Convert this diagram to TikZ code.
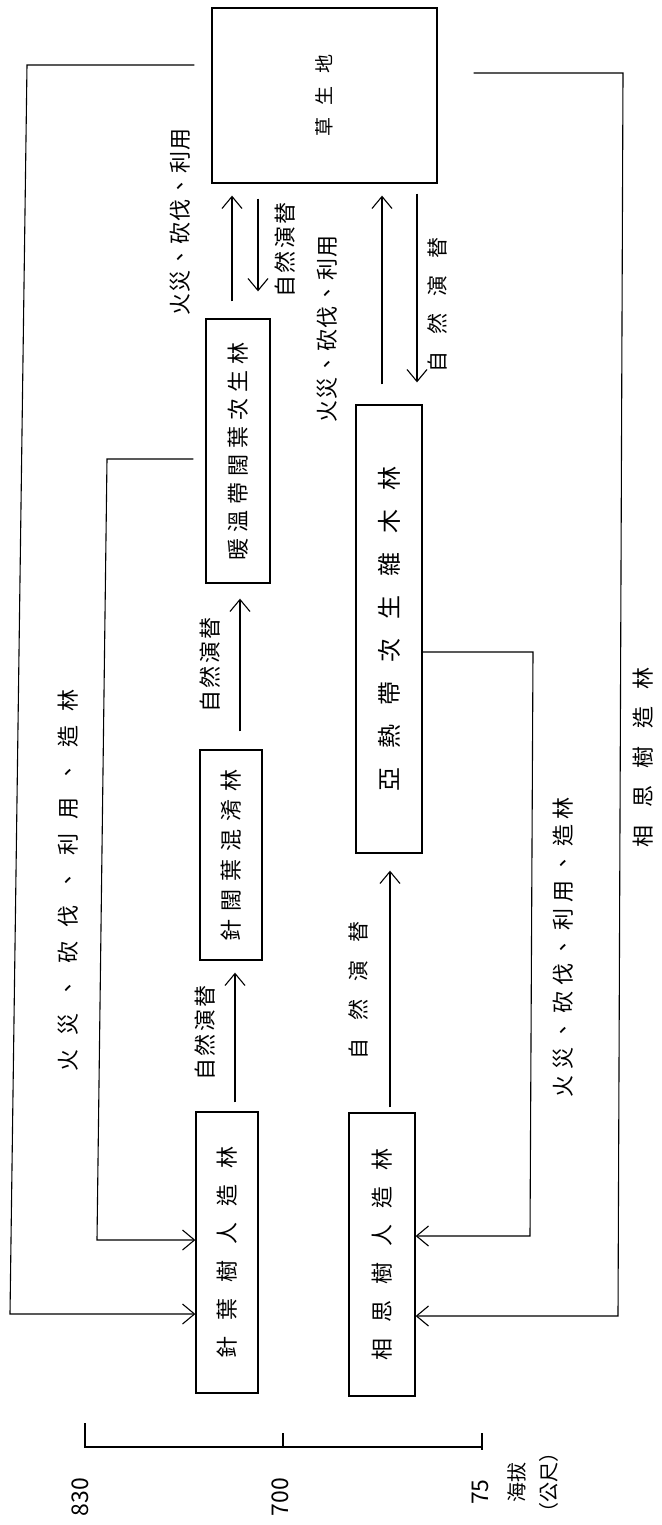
\documentclass[tikz,border=0pt]{standalone}
\usepackage{fontspec}
\setmainfont{Noto Sans CJK TC}
\usetikzlibrary{arrows.meta}
\newlength\cg
\newcommand\G{\hspace{\cg}}
\newcommand\fs[1]{\fontsize{#1}{#1}\selectfont}
\begin{document}
\begin{tikzpicture}[x=1pt,y=1pt,
  box/.style={draw, line width=1.3pt, inner sep=0pt},
  lbl/.style={rotate=90, inner sep=0pt},
  ln/.style={line width=1.1pt},
  arr/.style={line width=1.1pt, -{Straight Barb[length=12pt,width=20pt,line width=1.1pt]}}]
\useasboundingbox (0,0) rectangle (661,-1525);
\fill[white] (0,0) rectangle (661,-1525);

% boxes
\node[box, minimum width=225pt, minimum height=175pt] (top) at (324.5,-95.5)
  {\rotatebox{90}{\fs{19}\setlength\cg{13pt}草\G 生\G 地}};
\node[box, minimum width=64pt, minimum height=264pt] (b2) at (238,-451)
  {\rotatebox{90}{\fs{22}\setlength\cg{6pt}暖\G 溫\G 帶\G 闊\G 葉\G 次\G 生\G 林}};
\node[box, minimum width=62pt, minimum height=210pt] (b3) at (231,-855)
  {\rotatebox{90}{\fs{22}\setlength\cg{8pt}針\G 闊\G 葉\G 混\G 淆\G 林}};
\node[box, minimum width=62pt, minimum height=281pt] (b4) at (227,-1252.5)
  {\rotatebox{90}{\fs{22}\setlength\cg{16pt}針\G 葉\G 樹\G 人\G 造\G 林}};
\node[box, minimum width=66pt, minimum height=448pt] (b5) at (389,-629)
  {\rotatebox{90}{\fs{24}\setlength\cg{19pt}亞\G 熱\G 帶\G 次\G 生\G 雜\G 木\G 林}};
\node[box, minimum width=66pt, minimum height=283pt] (b6) at (382,-1254.5)
  {\rotatebox{90}{\fs{22}\setlength\cg{16pt}相\G 思\G 樹\G 人\G 造\G 林}};

% loop corners
\coordinate (tl) at (27,-65);
\coordinate (bl) at (10,-1314);
\coordinate (il1) at (107,-459);
\coordinate (il2) at (97,-1240);
\coordinate (tr) at (623,-73);
\coordinate (br) at (618,-1316);
\coordinate (ir1) at (533,-652);
\coordinate (ir2) at (530,-1236);

\draw[arr, shorten <=17pt] (top.west |- tl) -- (tl) -- (bl) -- (b4.west |- bl);
\draw[arr, shorten <=12pt] (b2.west |- il1) -- (il1) -- (il2) -- (b4.west |- il2);
\draw[arr, shorten <=36pt] (top.east |- tr) -- (tr) -- (br) -- (b6.east |- br);
\draw[arr] (b5.east |- ir1) -- (ir1) -- (ir2) -- (b6.east |- ir2);

% vertical arrows
\coordinate (a1) at (232,0);
\coordinate (a2) at (258,0);
\coordinate (a3) at (382,0);
\coordinate (a4) at (417,0);
\coordinate (a5) at (240,0);
\coordinate (a6) at (235,0);
\coordinate (a7) at (390,0);
\draw[arr, shorten <=17pt, shorten >=12pt] (b2.north -| a1) -- (top.south -| a1);
\draw[arr, shorten <=15pt, shorten >=27pt] (top.south -| a2) -- (b2.north -| a2);
\draw[arr, shorten <=20pt, shorten >=12pt] (b5.north -| a3) -- (top.south -| a3);
\draw[arr, shorten <=10pt, shorten >=22pt] (top.south -| a4) -- (b5.north -| a4);
\draw[arr, shorten <=18pt, shorten >=15pt] (b3.north -| a5) -- (b2.south -| a5);
\draw[arr, shorten <=9pt, shorten >=12pt] (b4.north -| a6) -- (b3.south -| a6);
\draw[arr, shorten <=5pt, shorten >=17pt] (b6.north -| a7) -- (b5.south -| a7);

% labels
\node[lbl] (l1) at (180,-222) {\fs{22}\setlength\cg{1.7pt}火\G 災\G 、\G 砍\G 伐\G 、\G 利\G 用};
\node[lbl] (l2) at (285,-250) {\fs{22}\setlength\cg{2.3pt}自\G 然\G 演\G 替};
\node[lbl] (l3) at (327,-329) {\fs{22}\setlength\cg{1.7pt}火\G 災\G 、\G 砍\G 伐\G 、\G 利\G 用};
\node[lbl] (l4) at (437,-305) {\fs{21}\setlength\cg{17pt}自\G 然\G 演\G 替};
\node[lbl] (l5) at (210,-665) {\fs{22}\setlength\cg{2.5pt}自\G 然\G 演\G 替};
\node[lbl] (l6) at (205,-1033) {\fs{22}\setlength\cg{2.5pt}自\G 然\G 演\G 替};
\node[lbl] (l7) at (358,-990) {\fs{21}\setlength\cg{18pt}自\G 然\G 演\G 替};
\node[lbl] (l8) at (68,-880) {\fs{22}\setlength\cg{14pt}火\G 災\G 、\G 砍\G 伐\G 、\G 利\G 用\G 、\G 造\G 林};
\node[lbl] (l9) at (563,-947) {\fs{22}\setlength\cg{5.8pt}火\G 災\G 、\G 砍\G 伐\G 、\G 利\G 用\G 、\G 造\G 林};
\node[lbl] (l10) at (643,-757) {\fs{22}\setlength\cg{17.5pt}相\G 思\G 樹\G 造\G 林};

% altitude scale
\draw[ln] (85,-1423) -- (85,-1447) -- (483,-1447);
\draw[ln] (283,-1433) -- (283,-1447);
\draw[ln] (482,-1433) -- (482,-1450);
\node[lbl] (s1) at (80,-1497) {\fs{23}830};
\node[lbl] (s2) at (280,-1497) {\fs{23}700};
\node[lbl] (s3) at (480,-1492) {\fs{23}75};
\node[lbl, align=center, font=\fs{20}] (s4) at (533,-1482) {海拔\\[12pt]（公尺）};
\end{tikzpicture}
\end{document}
